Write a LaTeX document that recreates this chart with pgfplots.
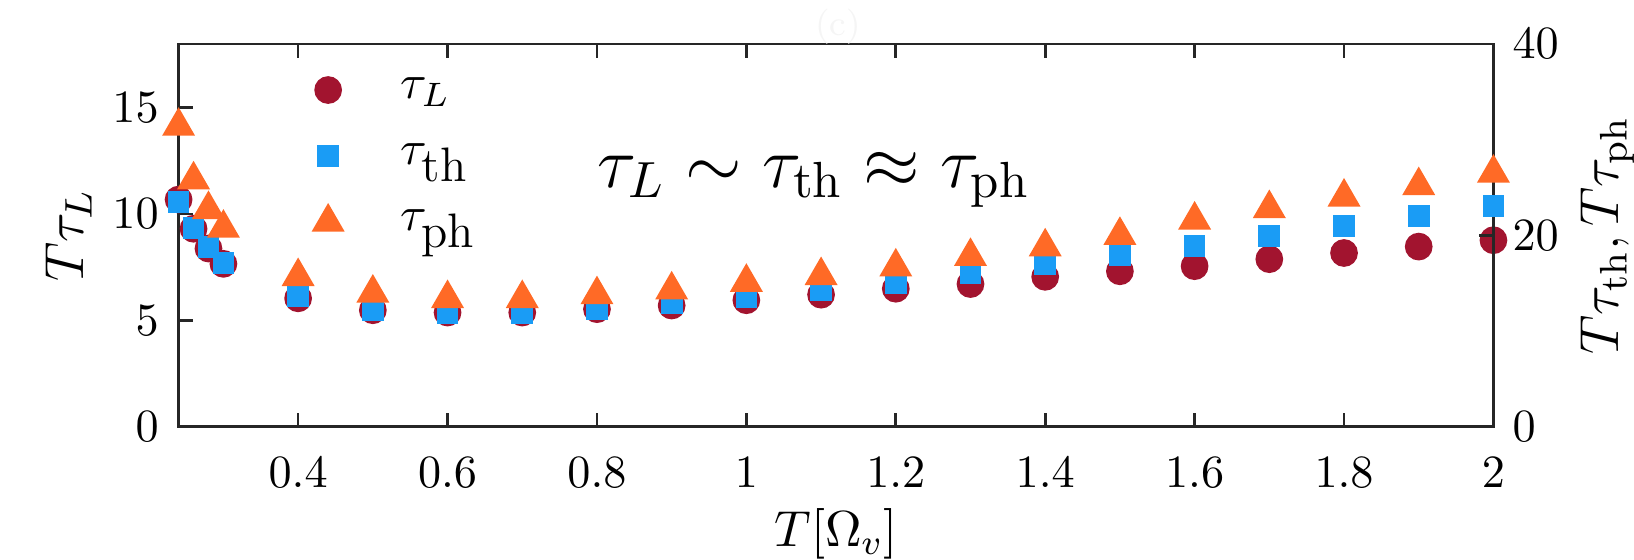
\documentclass[border=0pt]{standalone}
\usepackage{fix-cm}
\usepackage{pgfplots}
\pgfplotsset{compat=1.18}
\usepackage{pgfplotstable}
\definecolor{cL}{HTML}{A2142F}
\definecolor{cth}{HTML}{1A9CF5}
\definecolor{cph}{HTML}{FF6A26}
\definecolor{axc}{HTML}{262626}

\pgfplotstableread{
x     tL
0.24  10.68
0.26  9.31
0.28  8.38
0.30  7.66
0.4   6.04
0.5   5.48
0.6   5.37
0.7   5.37
0.8   5.53
0.9   5.70
1.0   5.95
1.1   6.21
1.2   6.49
1.3   6.71
1.4   7.05
1.5   7.31
1.6   7.55
1.7   7.88
1.8   8.17
1.9   8.47
2.0   8.77
}\tabL

\pgfplotstableread{
x     tth   tph
0.24  23.5  31.4
0.26  20.8  25.8
0.28  18.8  22.7
0.30  17.1  20.75
0.4   13.6  15.7
0.5   12.2  13.97
0.6   11.9  13.4
0.7   11.9  13.4
0.8   12.3  13.8
0.9   12.9  14.3
1.0   13.5  15.1
1.1   14.3  15.8
1.2   15.0  16.7
1.3   16.0  17.8
1.4   16.95 18.8
1.5   17.9  20.0
1.6   18.9  21.6
1.7   19.9  22.8
1.8   21.0  24.0
1.9   22.0  25.2
2.0   23.1  26.5
}\tabR

\newcommand{\lsz}{\fontsize{11}{13}\selectfont}
\newcommand{\lstrut}{\rule[-5.5pt]{0pt}{15pt}}

\begin{document}
\begin{tikzpicture}
\path[use as bounding box] (0,0) rectangle (371.36pt,127.27pt);
\begin{axis}[
  at={(40.59pt,30.27pt)}, anchor=south west,
  scale only axis, width=298.82pt, height=87.02pt,
  xmin=0.24, xmax=2, ymin=0, ymax=18,
  xtick={0.4,0.6,0.8,1,1.2,1.4,1.6,1.8,2},
  ytick={0,5,10,15},
  ytick pos=left, xtick pos=both,
  tick align=inside,
  major tick length=3.2pt,
  axis line style={-, axc, line width=0.6pt},
  every tick/.style={axc, line width=0.6pt},
  tick label style={font=\fontsize{10.5}{12}\selectfont},
  xticklabel style={yshift=-3.4pt},
  yticklabel style={xshift=-1pt},
  clip=false,
  xlabel={$T[\Omega_v]$},
  ylabel={$T\tau_L$},
  every axis x label/.style={at={([yshift=-27.3pt]axis description cs:0.5,0)}, anchor=base, font=\fontsize{11.5}{13}\selectfont},
  every axis y label/.style={at={([xshift=-21.66pt]axis description cs:0,0.5)}, rotate=90, anchor=base, font=\fontsize{12.5}{14}\selectfont},
  legend style={at={(0.0845,0.968)}, anchor=north west, draw=none, fill=none, inner sep=0pt,
    row sep=0pt, column sep=7.9pt, cells={anchor=west},
    nodes={inner sep=0pt, text height=9.5pt, text depth=5.5pt},
    font=\fontsize{11}{13}\selectfont},
  legend image code/.code={\path[draw=none, fill=none] (0pt,-7.5pt) rectangle (17.07pt,7.5pt); \draw[mark repeat=2,mark phase=2,#1] plot[only marks] coordinates {(0cm,0pt) (0.3cm,0pt) (0.6cm,0pt)};},
]
\addplot[only marks, mark=*, mark size=2.95pt, color=cL, mark options={draw=none, fill=cL}] table[x=x, y=tL] {\tabL};
\addlegendentry{\lstrut$\tau_L$}
\addlegendimage{only marks, mark=square*, mark size=2.27pt, color=cth, mark options={draw=none, fill=cth}}
\addlegendentry{\lstrut$\tau_{\mbox{\lsz th}}$}
\addlegendimage{only marks, mark=triangle*, mark size=3.93pt, color=cph, mark options={draw=none, fill=cph}}
\addlegendentry{\lstrut$\tau_{\mbox{\lsz ph}}$}
\node[anchor=base, font=\fontsize{16.5}{19}\selectfont] at (axis cs:1.09,11.27) {$\tau_L \sim \tau_{\mathrm{th}} \approx \tau_{\mathrm{ph}}$};
\node[anchor=base, text=black!4, font=\fontsize{8}{10}\selectfont] at ([yshift=2pt]rel axis cs:0.5017,1) {(c)};
\end{axis}
\begin{axis}[
  at={(40.59pt,30.27pt)}, anchor=south west,
  scale only axis, width=298.82pt, height=87.02pt,
  xmin=0.24, xmax=2, ymin=0, ymax=40,
  hide x axis,
  axis y line*=right,
  ytick={0,20,40},
  ytick pos=right,
  tick align=inside,
  major tick length=3.2pt,
  axis line style={-, axc, line width=0.6pt},
  every tick/.style={axc, line width=0.6pt},
  tick label style={font=\fontsize{10.5}{12}\selectfont},
  yticklabel style={xshift=0.8pt},
  clip=false,
  ylabel={$T\tau_{\mathrm{th}}, T\tau_{\mathrm{ph}}$},
  every axis y label/.style={at={([xshift=28.4pt]axis description cs:1,0.5)}, rotate=90, anchor=base, font=\fontsize{12.5}{14}\selectfont},
]
\addplot[only marks, mark=square*, mark size=2.27pt, color=cth, mark options={draw=none, fill=cth}] table[x=x, y=tth] {\tabR};
\addplot[only marks, mark=triangle*, mark size=3.93pt, color=cph, mark options={draw=none, fill=cph}] table[x=x, y=tph] {\tabR};
\end{axis}
\end{tikzpicture}
\end{document}
